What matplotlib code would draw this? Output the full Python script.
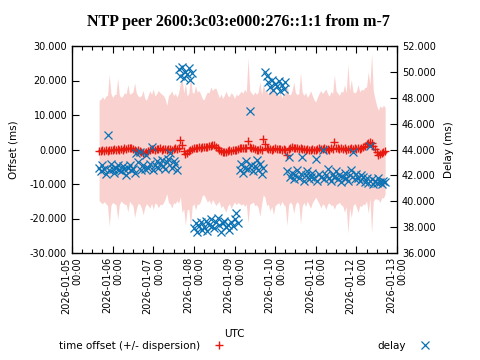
import numpy as np
import pandas as pd
import matplotlib
matplotlib.use('Agg')
import matplotlib.pyplot as plt
import matplotlib.dates as mdates
from matplotlib.ticker import FormatStrFormatter, MultipleLocator

# hourly samples starting 2026-01-05 16:00 UTC
start = pd.Timestamp('2026-01-05 16:00')

# time offset (ms)
offset = [
    -0.3, -0.4, -0.2, -0.3, -0.1, -0.3, -0.2, 0.0, -0.1, 0.1,
    0.0, 0.2, -0.1, 0.1, 0.0, 0.3, 0.1, 0.4, 0.5, 0.3,
    0.2, -0.2, -0.4, -0.1, -0.3, -0.6, -0.9, -1.0, -0.7, -0.3,
    0.0, 0.2, 0.1, 0.0, 0.2, 0.1, 0.3, 0.0, 0.1, 0.2,
    0.0, 0.1, 0.2, 0.0, 0.1, 0.3, 0.2, 0.4, 2.8, 1.2,
    -0.4, -1.4, -1.0, -0.5, -0.2, 0.1, 0.3, 0.5, 0.4, 0.6,
    0.5, 0.7, 0.6, 0.8, 0.7, 0.9, 1.1, 1.3, 1.2, 0.8,
    0.4, 0.0, -0.4, -0.7, -0.8, -0.6, -0.4, -0.2, -0.3, -0.1,
    -0.2, 0.0, 0.1, 0.3, 0.4, 0.3, 0.5, 0.4, 2.6, 0.6,
    0.4, 0.3, 0.2, 0.0, -0.1, 0.1, 0.0, 2.9, 1.6, 0.3,
    0.1, 0.2, 0.0, 0.1, 0.3, 0.2, 0.1, 0.2, 0.0, 0.1,
    0.0, -1.5, 0.1, 0.3, 0.6, 0.5, 0.3, 0.4, 0.2, 0.3,
    0.1, 0.2, 0.0, 0.1, -0.1, 0.0, 0.1, -0.1, 0.0, 0.2,
    0.3, 0.1, 0.2, 0.4, 0.1, 0.2, 0.0, 0.3, 0.1, 2.2,
    0.5, 0.3, 0.2, 0.4, 0.1, 0.3, 0.0, 0.2, 0.1, 0.3,
    0.2, 0.4, 0.1, 0.3, 0.2, 0.5, 0.7, 1.0, 1.6, 2.0,
    2.3, 1.8, 1.0, 0.2, -0.8, -1.6, -1.3, -0.9, -0.6, -0.4,
]

# dispersion (ms)
dispersion = [
    14.5, 15.0, 15.5, 14.8, 15.6, 16.0, 22.0, 16.2, 15.2, 15.8,
    16.0, 20.5, 15.8, 15.0, 15.5, 16.2, 16.0, 18.5, 15.5, 16.0,
    16.5, 19.5, 16.8, 15.6, 15.5, 16.3, 18.0, 15.8, 15.0, 16.0,
    17.0, 15.8, 17.5, 15.5, 16.0, 17.0, 16.2, 16.0, 15.6, 14.5,
    12.8, 15.5, 16.0, 17.0, 15.5, 16.0, 15.0, 16.0, 16.5, 19.5,
    16.8, 20.5, 16.5, 16.8, 22.0, 16.5, 16.0, 18.0, 16.2, 16.5,
    15.5, 14.0, 13.8, 15.0, 16.0, 15.5, 17.0, 15.8, 16.5, 17.0,
    16.0, 15.0, 16.5, 15.5, 16.5, 17.5, 16.0, 15.5, 16.8, 16.0,
    15.0, 16.0, 15.5, 16.0, 16.5, 16.0, 17.0, 16.2, 24.0, 16.5,
    16.0, 15.5, 16.5, 16.0, 16.8, 19.5, 16.0, 16.0, 15.5, 16.5,
    16.0, 18.0, 16.5, 19.0, 16.5, 16.0, 15.5, 16.5, 15.0, 16.0,
    16.5, 20.5, 16.0, 15.5, 16.5, 19.0, 16.2, 15.5, 16.0, 22.0,
    16.5, 15.5, 16.5, 15.0, 16.0, 17.0, 15.5, 14.5, 13.8, 15.0,
    16.0, 17.0, 16.0, 16.5, 17.5, 16.0, 15.5, 16.5, 16.2, 19.5,
    16.5, 16.0, 15.5, 16.5, 16.5, 18.5, 16.5, 24.5, 17.0, 20.0,
    16.5, 16.0, 16.8, 18.5, 16.5, 17.0, 16.5, 17.0, 16.5, 20.5,
    16.5, 26.0, 16.0, 14.5, 13.5, 13.0, 14.0, 13.0, 13.5, 12.5,
]

# delay (ms), grouped by the route changes
delay_a = [
    42.6, 42.3, 42.8, 42.5, 42.1, 45.1, 42.4, 42.9, 42.5, 42.2,
    42.6, 42.8, 42.4, 42.3, 42.7, 42.5, 42.0, 42.6, 42.8, 42.4,
    42.5, 42.2, 43.7, 43.0, 43.8, 42.4, 42.8, 42.5, 43.6, 42.6,
    42.9, 44.2, 42.4, 42.8, 43.1, 42.6, 42.9, 43.2, 42.7, 42.5,
    43.0, 43.3, 43.7, 42.6, 43.1, 42.9, 42.4,
]
delay_b = [50.2, 49.7, 50.4, 49.5, 50.0, 49.8, 50.3, 49.4, 49.9]
delay_c = [
    37.9, 38.3, 37.6, 38.1, 38.4, 37.8, 38.0, 38.5, 37.7, 38.2,
    38.6, 38.1, 37.9, 38.4, 38.7, 38.2, 37.6, 38.3, 38.5, 38.0,
    38.2, 37.8, 38.4, 38.1, 38.6, 39.1, 38.3,
]
delay_d = [42.4, 42.9, 42.2, 42.6, 43.1, 42.5, 47.0, 42.8, 42.3, 42.7,
           43.2, 42.4, 42.9, 42.1, 42.6]
delay_e = [50.0, 49.7, 49.2, 48.8, 49.4, 48.6, 49.1, 48.9, 49.3, 48.5,
           49.0, 48.7, 49.2]
delay_f = [
    42.3, 43.4, 41.9, 42.2, 41.7, 42.0, 42.4, 41.8, 42.1, 43.4,
    41.6, 42.0, 42.3, 41.7, 41.9, 42.2, 41.8, 43.3, 41.6, 42.1,
    41.9, 44.0, 41.7, 42.0, 42.5, 41.8, 41.6, 42.1, 41.9, 42.3,
    41.7, 42.0, 41.5, 41.9, 42.2, 41.8, 41.6, 42.0, 42.4, 43.8,
    41.7, 42.1, 41.8, 41.6, 42.0, 41.9, 41.5, 41.8, 41.4, 44.3,
    41.7, 41.3, 41.6, 41.4, 41.8, 41.5, 41.3, 41.6, 41.5,
]

RED = '#e8190f'
BLUE = '#0a72b4'
PINK = '#f9d2d0'


def main():
    delay = delay_a + delay_b + delay_c + delay_d + delay_e + delay_f
    t_off = pd.date_range(start, periods=len(offset), freq='h')
    t_del = pd.date_range(start, periods=len(delay), freq='h')
    off = np.array(offset)
    disp = np.array(dispersion)

    plt.rcParams['font.family'] = 'DejaVu Sans'
    fig = plt.figure(figsize=(4.8, 3.6), dpi=100)
    ax = fig.add_axes([72 / 480, 1 - 253 / 360, 325 / 480, 207 / 360])

    ax.fill_between(t_off, off - disp, off + disp, color=PINK, lw=0)
    ax.plot(t_off, off, ls='none', marker='+', color=RED, ms=5.5, mew=1.0,
            label='time offset (+/- dispersion)')

    ax2 = ax.twinx()
    ax2.plot(t_del, delay, ls='none', marker='x', color=BLUE, ms=5.5, mew=0.9,
             label='delay')

    ax.set_xlim(pd.Timestamp('2026-01-05'), pd.Timestamp('2026-01-13'))
    ax.set_ylim(-30, 30)
    ax2.set_ylim(36, 52)

    ax.xaxis.set_major_locator(mdates.DayLocator())
    ax.xaxis.set_minor_locator(mdates.HourLocator(byhour=[6, 12, 18]))
    ax.xaxis.set_major_formatter(mdates.DateFormatter('%Y-%m-%d\n%H:%M'))
    ax.yaxis.set_major_locator(MultipleLocator(10))
    ax.yaxis.set_major_formatter(FormatStrFormatter('%.3f'))
    ax2.yaxis.set_major_locator(MultipleLocator(2))
    ax2.yaxis.set_major_formatter(FormatStrFormatter('%.3f'))

    ax.tick_params(axis='both', which='major', direction='in', length=5,
                   width=0.8, labelsize=7)
    ax.tick_params(axis='x', which='both', top=True)
    ax.tick_params(axis='x', which='minor', direction='in', length=3, width=0.8)
    ax.tick_params(axis='x', which='major', pad=3)
    ax2.tick_params(axis='y', direction='in', length=5, width=0.8, labelsize=7)
    for lab in ax.get_xticklabels():
        lab.set_rotation(90)
        lab.set_ha('center')
        lab.set_va('top')
        lab.set_multialignment('right')

    for sp in ax.spines.values():
        sp.set_linewidth(0.9)

    ax.set_ylabel('Offset (ms)', fontsize=7.5, labelpad=8)
    ax2.set_ylabel('Delay (ms)', fontsize=7.5, labelpad=6, rotation=90)
    ax.set_xlabel('UTC', fontsize=7.5, labelpad=11)

    fig.text(238 / 480, 1 - 22 / 360, 'NTP peer 2600:3c03:e000:276::1:1 from m-7',
             family='Liberation Serif', weight='bold', fontsize=11.5,
             ha='center', va='center')

    h1, l1 = ax.get_legend_handles_labels()
    h2, l2 = ax2.get_legend_handles_labels()
    fig.legend(h1 + h2, l1 + l2, ncol=2, frameon=False, markerfirst=False,
               fontsize=7.5, handlelength=2.0, handletextpad=0.8,
               columnspacing=14.2, loc='center',
               bbox_to_anchor=(247 / 480, 1 - 346 / 360))

    fig.savefig('out.png', dpi=100)


if __name__ == '__main__':
    main()
